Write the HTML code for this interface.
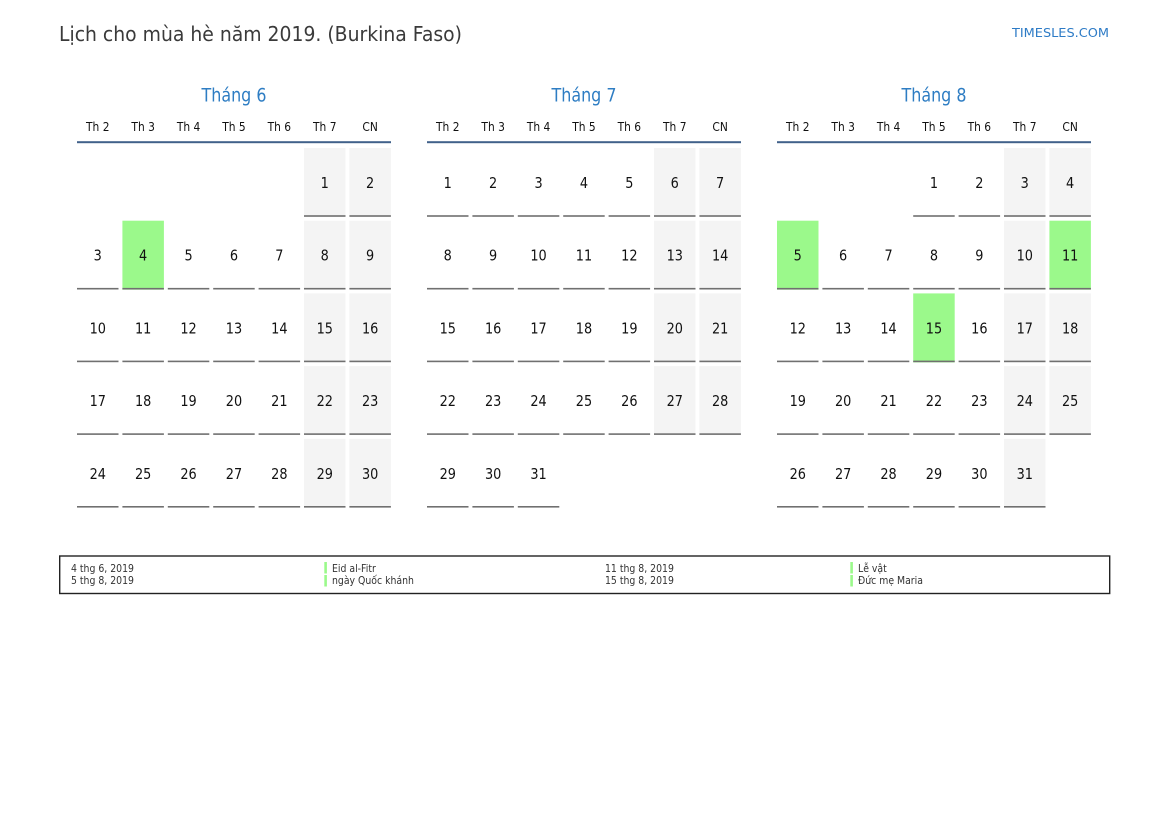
<!DOCTYPE html>
<html><head><meta charset="utf-8"><style>
html,body{margin:0;padding:0;background:#fff;}
svg{display:block;font-family:"DejaVu Sans","Liberation Sans",sans-serif;}
.n{font-size:15.5px;text-anchor:middle;fill:#111;}
.d{font-size:12px;text-anchor:middle;fill:#111;}
.m{font-size:19px;text-anchor:middle;fill:#2e7dc3;}
.g{font-size:10.5px;fill:#333;}
</style></head><body>
<svg width="1169" height="827" viewBox="0 0 1169 827" xmlns="http://www.w3.org/2000/svg">
<defs>
<rect id="L" x="-20.75" y="67.2" width="41.5" height="1.6" fill="#707070"/>
<rect id="W" x="-20.75" y="0" width="41.5" height="69" fill="#f4f4f4"/>
<rect id="H" x="-20.75" y="0" width="41.5" height="69" fill="#9bf98b"/>
</defs>
<rect width="1169" height="827" fill="#fff"/>
<text x="59" y="41" font-size="20.5" textLength="403" lengthAdjust="spacingAndGlyphs" fill="#3a3a3a">Lịch cho mùa hè năm 2019. (Burkina Faso)</text>
<text x="1012" y="37" font-size="12.5" textLength="97" lengthAdjust="spacingAndGlyphs" fill="#2d7bc6">TIMESLES.COM</text>

<!-- Month titles -->
<text class="m" x="234" y="101.5" textLength="65" lengthAdjust="spacingAndGlyphs">Tháng 6</text>
<text class="m" x="584" y="101.5" textLength="65" lengthAdjust="spacingAndGlyphs">Tháng 7</text>
<text class="m" x="934" y="101.5" textLength="65" lengthAdjust="spacingAndGlyphs">Tháng 8</text>

<!-- Day headers -->
<g>
<text class="d" transform="translate(97.75,131) scale(.89,1)">Th 2</text>
<text class="d" transform="translate(143.15,131) scale(.89,1)">Th 3</text>
<text class="d" transform="translate(188.55,131) scale(.89,1)">Th 4</text>
<text class="d" transform="translate(233.95,131) scale(.89,1)">Th 5</text>
<text class="d" transform="translate(279.35,131) scale(.89,1)">Th 6</text>
<text class="d" transform="translate(324.75,131) scale(.89,1)">Th 7</text>
<text class="d" transform="translate(370.15,131) scale(.89,1)">CN</text>
<text class="d" transform="translate(447.75,131) scale(.89,1)">Th 2</text>
<text class="d" transform="translate(493.15,131) scale(.89,1)">Th 3</text>
<text class="d" transform="translate(538.55,131) scale(.89,1)">Th 4</text>
<text class="d" transform="translate(583.95,131) scale(.89,1)">Th 5</text>
<text class="d" transform="translate(629.35,131) scale(.89,1)">Th 6</text>
<text class="d" transform="translate(674.75,131) scale(.89,1)">Th 7</text>
<text class="d" transform="translate(720.15,131) scale(.89,1)">CN</text>
<text class="d" transform="translate(797.75,131) scale(.89,1)">Th 2</text>
<text class="d" transform="translate(843.15,131) scale(.89,1)">Th 3</text>
<text class="d" transform="translate(888.55,131) scale(.89,1)">Th 4</text>
<text class="d" transform="translate(933.95,131) scale(.89,1)">Th 5</text>
<text class="d" transform="translate(979.35,131) scale(.89,1)">Th 6</text>
<text class="d" transform="translate(1024.75,131) scale(.89,1)">Th 7</text>
<text class="d" transform="translate(1070.15,131) scale(.89,1)">CN</text>
</g>
<rect x="77" y="141.2" width="314" height="2" fill="#41618a"/>
<rect x="427" y="141.2" width="314" height="2" fill="#41618a"/>
<rect x="777" y="141.2" width="314" height="2" fill="#41618a"/>

<!-- JUNE -->
<g transform="translate(324.75,148)"><use href="#W"/><use href="#L"/><text class="n" transform="scale(.83,1)" y="40">1</text></g>
<g transform="translate(370.15,148)"><use href="#W"/><use href="#L"/><text class="n" transform="scale(.83,1)" y="40">2</text></g>

<g transform="translate(97.75,220.7)"><use href="#L"/><text class="n" transform="scale(.83,1)" y="40">3</text></g>
<g transform="translate(143.15,220.7)"><use href="#H"/><use href="#L"/><text class="n" transform="scale(.83,1)" y="40">4</text></g>
<g transform="translate(188.55,220.7)"><use href="#L"/><text class="n" transform="scale(.83,1)" y="40">5</text></g>
<g transform="translate(233.95,220.7)"><use href="#L"/><text class="n" transform="scale(.83,1)" y="40">6</text></g>
<g transform="translate(279.35,220.7)"><use href="#L"/><text class="n" transform="scale(.83,1)" y="40">7</text></g>
<g transform="translate(324.75,220.7)"><use href="#W"/><use href="#L"/><text class="n" transform="scale(.83,1)" y="40">8</text></g>
<g transform="translate(370.15,220.7)"><use href="#W"/><use href="#L"/><text class="n" transform="scale(.83,1)" y="40">9</text></g>

<g transform="translate(97.75,293.4)"><use href="#L"/><text class="n" transform="scale(.83,1)" y="40">10</text></g>
<g transform="translate(143.15,293.4)"><use href="#L"/><text class="n" transform="scale(.83,1)" y="40">11</text></g>
<g transform="translate(188.55,293.4)"><use href="#L"/><text class="n" transform="scale(.83,1)" y="40">12</text></g>
<g transform="translate(233.95,293.4)"><use href="#L"/><text class="n" transform="scale(.83,1)" y="40">13</text></g>
<g transform="translate(279.35,293.4)"><use href="#L"/><text class="n" transform="scale(.83,1)" y="40">14</text></g>
<g transform="translate(324.75,293.4)"><use href="#W"/><use href="#L"/><text class="n" transform="scale(.83,1)" y="40">15</text></g>
<g transform="translate(370.15,293.4)"><use href="#W"/><use href="#L"/><text class="n" transform="scale(.83,1)" y="40">16</text></g>

<g transform="translate(97.75,366.1)"><use href="#L"/><text class="n" transform="scale(.83,1)" y="40">17</text></g>
<g transform="translate(143.15,366.1)"><use href="#L"/><text class="n" transform="scale(.83,1)" y="40">18</text></g>
<g transform="translate(188.55,366.1)"><use href="#L"/><text class="n" transform="scale(.83,1)" y="40">19</text></g>
<g transform="translate(233.95,366.1)"><use href="#L"/><text class="n" transform="scale(.83,1)" y="40">20</text></g>
<g transform="translate(279.35,366.1)"><use href="#L"/><text class="n" transform="scale(.83,1)" y="40">21</text></g>
<g transform="translate(324.75,366.1)"><use href="#W"/><use href="#L"/><text class="n" transform="scale(.83,1)" y="40">22</text></g>
<g transform="translate(370.15,366.1)"><use href="#W"/><use href="#L"/><text class="n" transform="scale(.83,1)" y="40">23</text></g>

<g transform="translate(97.75,438.8)"><use href="#L"/><text class="n" transform="scale(.83,1)" y="40">24</text></g>
<g transform="translate(143.15,438.8)"><use href="#L"/><text class="n" transform="scale(.83,1)" y="40">25</text></g>
<g transform="translate(188.55,438.8)"><use href="#L"/><text class="n" transform="scale(.83,1)" y="40">26</text></g>
<g transform="translate(233.95,438.8)"><use href="#L"/><text class="n" transform="scale(.83,1)" y="40">27</text></g>
<g transform="translate(279.35,438.8)"><use href="#L"/><text class="n" transform="scale(.83,1)" y="40">28</text></g>
<g transform="translate(324.75,438.8)"><use href="#W"/><use href="#L"/><text class="n" transform="scale(.83,1)" y="40">29</text></g>
<g transform="translate(370.15,438.8)"><use href="#W"/><use href="#L"/><text class="n" transform="scale(.83,1)" y="40">30</text></g>

<!-- JULY -->
<g transform="translate(447.75,148)"><use href="#L"/><text class="n" transform="scale(.83,1)" y="40">1</text></g>
<g transform="translate(493.15,148)"><use href="#L"/><text class="n" transform="scale(.83,1)" y="40">2</text></g>
<g transform="translate(538.55,148)"><use href="#L"/><text class="n" transform="scale(.83,1)" y="40">3</text></g>
<g transform="translate(583.95,148)"><use href="#L"/><text class="n" transform="scale(.83,1)" y="40">4</text></g>
<g transform="translate(629.35,148)"><use href="#L"/><text class="n" transform="scale(.83,1)" y="40">5</text></g>
<g transform="translate(674.75,148)"><use href="#W"/><use href="#L"/><text class="n" transform="scale(.83,1)" y="40">6</text></g>
<g transform="translate(720.15,148)"><use href="#W"/><use href="#L"/><text class="n" transform="scale(.83,1)" y="40">7</text></g>

<g transform="translate(447.75,220.7)"><use href="#L"/><text class="n" transform="scale(.83,1)" y="40">8</text></g>
<g transform="translate(493.15,220.7)"><use href="#L"/><text class="n" transform="scale(.83,1)" y="40">9</text></g>
<g transform="translate(538.55,220.7)"><use href="#L"/><text class="n" transform="scale(.83,1)" y="40">10</text></g>
<g transform="translate(583.95,220.7)"><use href="#L"/><text class="n" transform="scale(.83,1)" y="40">11</text></g>
<g transform="translate(629.35,220.7)"><use href="#L"/><text class="n" transform="scale(.83,1)" y="40">12</text></g>
<g transform="translate(674.75,220.7)"><use href="#W"/><use href="#L"/><text class="n" transform="scale(.83,1)" y="40">13</text></g>
<g transform="translate(720.15,220.7)"><use href="#W"/><use href="#L"/><text class="n" transform="scale(.83,1)" y="40">14</text></g>

<g transform="translate(447.75,293.4)"><use href="#L"/><text class="n" transform="scale(.83,1)" y="40">15</text></g>
<g transform="translate(493.15,293.4)"><use href="#L"/><text class="n" transform="scale(.83,1)" y="40">16</text></g>
<g transform="translate(538.55,293.4)"><use href="#L"/><text class="n" transform="scale(.83,1)" y="40">17</text></g>
<g transform="translate(583.95,293.4)"><use href="#L"/><text class="n" transform="scale(.83,1)" y="40">18</text></g>
<g transform="translate(629.35,293.4)"><use href="#L"/><text class="n" transform="scale(.83,1)" y="40">19</text></g>
<g transform="translate(674.75,293.4)"><use href="#W"/><use href="#L"/><text class="n" transform="scale(.83,1)" y="40">20</text></g>
<g transform="translate(720.15,293.4)"><use href="#W"/><use href="#L"/><text class="n" transform="scale(.83,1)" y="40">21</text></g>

<g transform="translate(447.75,366.1)"><use href="#L"/><text class="n" transform="scale(.83,1)" y="40">22</text></g>
<g transform="translate(493.15,366.1)"><use href="#L"/><text class="n" transform="scale(.83,1)" y="40">23</text></g>
<g transform="translate(538.55,366.1)"><use href="#L"/><text class="n" transform="scale(.83,1)" y="40">24</text></g>
<g transform="translate(583.95,366.1)"><use href="#L"/><text class="n" transform="scale(.83,1)" y="40">25</text></g>
<g transform="translate(629.35,366.1)"><use href="#L"/><text class="n" transform="scale(.83,1)" y="40">26</text></g>
<g transform="translate(674.75,366.1)"><use href="#W"/><use href="#L"/><text class="n" transform="scale(.83,1)" y="40">27</text></g>
<g transform="translate(720.15,366.1)"><use href="#W"/><use href="#L"/><text class="n" transform="scale(.83,1)" y="40">28</text></g>

<g transform="translate(447.75,438.8)"><use href="#L"/><text class="n" transform="scale(.83,1)" y="40">29</text></g>
<g transform="translate(493.15,438.8)"><use href="#L"/><text class="n" transform="scale(.83,1)" y="40">30</text></g>
<g transform="translate(538.55,438.8)"><use href="#L"/><text class="n" transform="scale(.83,1)" y="40">31</text></g>

<!-- AUGUST -->
<g transform="translate(933.95,148)"><use href="#L"/><text class="n" transform="scale(.83,1)" y="40">1</text></g>
<g transform="translate(979.35,148)"><use href="#L"/><text class="n" transform="scale(.83,1)" y="40">2</text></g>
<g transform="translate(1024.75,148)"><use href="#W"/><use href="#L"/><text class="n" transform="scale(.83,1)" y="40">3</text></g>
<g transform="translate(1070.15,148)"><use href="#W"/><use href="#L"/><text class="n" transform="scale(.83,1)" y="40">4</text></g>

<g transform="translate(797.75,220.7)"><use href="#H"/><use href="#L"/><text class="n" transform="scale(.83,1)" y="40">5</text></g>
<g transform="translate(843.15,220.7)"><use href="#L"/><text class="n" transform="scale(.83,1)" y="40">6</text></g>
<g transform="translate(888.55,220.7)"><use href="#L"/><text class="n" transform="scale(.83,1)" y="40">7</text></g>
<g transform="translate(933.95,220.7)"><use href="#L"/><text class="n" transform="scale(.83,1)" y="40">8</text></g>
<g transform="translate(979.35,220.7)"><use href="#L"/><text class="n" transform="scale(.83,1)" y="40">9</text></g>
<g transform="translate(1024.75,220.7)"><use href="#W"/><use href="#L"/><text class="n" transform="scale(.83,1)" y="40">10</text></g>
<g transform="translate(1070.15,220.7)"><use href="#H"/><use href="#L"/><text class="n" transform="scale(.83,1)" y="40">11</text></g>

<g transform="translate(797.75,293.4)"><use href="#L"/><text class="n" transform="scale(.83,1)" y="40">12</text></g>
<g transform="translate(843.15,293.4)"><use href="#L"/><text class="n" transform="scale(.83,1)" y="40">13</text></g>
<g transform="translate(888.55,293.4)"><use href="#L"/><text class="n" transform="scale(.83,1)" y="40">14</text></g>
<g transform="translate(933.95,293.4)"><use href="#H"/><use href="#L"/><text class="n" transform="scale(.83,1)" y="40">15</text></g>
<g transform="translate(979.35,293.4)"><use href="#L"/><text class="n" transform="scale(.83,1)" y="40">16</text></g>
<g transform="translate(1024.75,293.4)"><use href="#W"/><use href="#L"/><text class="n" transform="scale(.83,1)" y="40">17</text></g>
<g transform="translate(1070.15,293.4)"><use href="#W"/><use href="#L"/><text class="n" transform="scale(.83,1)" y="40">18</text></g>

<g transform="translate(797.75,366.1)"><use href="#L"/><text class="n" transform="scale(.83,1)" y="40">19</text></g>
<g transform="translate(843.15,366.1)"><use href="#L"/><text class="n" transform="scale(.83,1)" y="40">20</text></g>
<g transform="translate(888.55,366.1)"><use href="#L"/><text class="n" transform="scale(.83,1)" y="40">21</text></g>
<g transform="translate(933.95,366.1)"><use href="#L"/><text class="n" transform="scale(.83,1)" y="40">22</text></g>
<g transform="translate(979.35,366.1)"><use href="#L"/><text class="n" transform="scale(.83,1)" y="40">23</text></g>
<g transform="translate(1024.75,366.1)"><use href="#W"/><use href="#L"/><text class="n" transform="scale(.83,1)" y="40">24</text></g>
<g transform="translate(1070.15,366.1)"><use href="#W"/><use href="#L"/><text class="n" transform="scale(.83,1)" y="40">25</text></g>

<g transform="translate(797.75,438.8)"><use href="#L"/><text class="n" transform="scale(.83,1)" y="40">26</text></g>
<g transform="translate(843.15,438.8)"><use href="#L"/><text class="n" transform="scale(.83,1)" y="40">27</text></g>
<g transform="translate(888.55,438.8)"><use href="#L"/><text class="n" transform="scale(.83,1)" y="40">28</text></g>
<g transform="translate(933.95,438.8)"><use href="#L"/><text class="n" transform="scale(.83,1)" y="40">29</text></g>
<g transform="translate(979.35,438.8)"><use href="#L"/><text class="n" transform="scale(.83,1)" y="40">30</text></g>
<g transform="translate(1024.75,438.8)"><use href="#W"/><use href="#L"/><text class="n" transform="scale(.83,1)" y="40">31</text></g>

<!-- Legend -->
<rect x="59.7" y="556" width="1050" height="37.5" fill="none" stroke="#222" stroke-width="1.4"/>
<text class="g" transform="translate(71,572) scale(.89,1)">4 thg 6, 2019</text>
<text class="g" transform="translate(71,584) scale(.89,1)">5 thg 8, 2019</text>
<rect x="324.3" y="562" width="2.6" height="11.5" fill="#9bf98b"/>
<rect x="324.3" y="575" width="2.6" height="11.5" fill="#9bf98b"/>
<text class="g" transform="translate(332,572) scale(.89,1)">Eid al-Fitr</text>
<text class="g" transform="translate(332,584) scale(.89,1)">ngày Quốc khánh</text>
<text class="g" transform="translate(605,572) scale(.89,1)">11 thg 8, 2019</text>
<text class="g" transform="translate(605,584) scale(.89,1)">15 thg 8, 2019</text>
<rect x="850.3" y="562" width="2.6" height="11.5" fill="#9bf98b"/>
<rect x="850.3" y="575" width="2.6" height="11.5" fill="#9bf98b"/>
<text class="g" transform="translate(858,572) scale(.89,1)">Lễ vật</text>
<text class="g" transform="translate(858,584) scale(.89,1)">Đức mẹ Maria</text>
</svg>
</body></html>
